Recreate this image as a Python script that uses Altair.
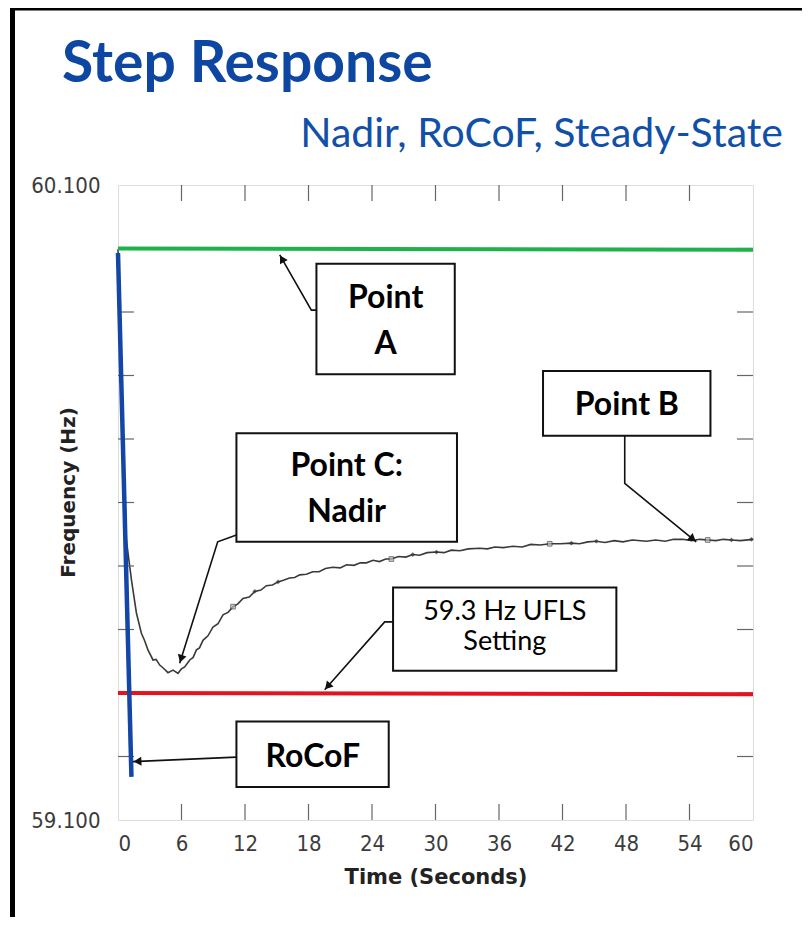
import math
import altair as alt
import pandas as pd

# ---------------- data ----------------
time_s = [0.00, 0.21, 0.44, 0.79, 1.27, 1.74, 2.21, 2.50, 2.83, 3.31, 3.60, 3.94, 4.30, 4.72,
          5.20, 5.67, 6.00, 6.30, 6.78, 7.10, 7.41, 7.70, 8.03, 8.50, 8.98, 9.45, 9.92, 10.40,
          10.87, 11.30, 11.81, 12.40, 12.92, 13.50, 14.02, 14.60, 15.12, 15.70, 16.20, 16.70,
          17.17, 17.80, 18.40, 19.00, 19.60, 20.29, 21.00, 21.60, 22.30, 22.90, 23.47, 24.10,
          24.70, 25.30, 25.83, 26.50, 27.20, 27.85, 28.50, 29.20, 30.09, 30.80, 31.50, 32.30,
          33.10, 34.18, 34.90, 35.60, 36.40, 37.30, 38.20, 39.00, 39.90, 40.79, 41.80, 42.84,
          43.60, 44.40, 45.20, 46.00, 46.90, 47.70, 48.60, 49.93, 50.80, 51.70, 52.50, 53.36,
          54.20, 55.00, 55.72, 56.50, 57.20, 57.96, 58.80, 60.00]
freq_hz = [59.999, 59.872, 59.714, 59.541, 59.478, 59.426, 59.394, 59.383, 59.368, 59.352, 59.353,
           59.344, 59.339, 59.332, 59.336, 59.331, 59.338, 59.341, 59.352, 59.356, 59.368, 59.371,
           59.383, 59.390, 59.404, 59.409, 59.423, 59.427, 59.436, 59.440, 59.449, 59.451, 59.460,
           59.462, 59.469, 59.470, 59.475, 59.478, 59.481, 59.482, 59.486, 59.487, 59.491, 59.491,
           59.496, 59.498, 59.497, 59.502, 59.501, 59.505, 59.505, 59.509, 59.507, 59.511, 59.511,
           59.515, 59.514, 59.518, 59.517, 59.521, 59.522, 59.521, 59.525, 59.524, 59.527, 59.528,
           59.527, 59.530, 59.529, 59.531, 59.530, 59.534, 59.533, 59.535, 59.535, 59.536, 59.535,
           59.538, 59.539, 59.537, 59.540, 59.538, 59.541, 59.539, 59.541, 59.539, 59.542, 59.542,
           59.540, 59.542, 59.541, 59.540, 59.542, 59.541, 59.540, 59.542]

square_t = [10.87, 25.83, 40.79, 55.72]
square_f = [59.436, 59.511, 59.535, 59.541]
diamond_t = [12.92, 15.12, 27.85, 30.09, 42.84, 45.20, 57.96, 59.85]
diamond_f = [59.460, 59.475, 59.518, 59.522, 59.536, 59.539, 59.541, 59.542]

green_t = [0, 60]
green_f = [60.000, 59.998]
red_t = [0, 60]
red_f = [59.300, 59.298]
rocof_t = [0.0, 1.27]
rocof_f = [59.993, 59.168]

x_ticks = [0, 6, 12, 18, 24, 30, 36, 42, 48, 54, 60]
y_labels = [59.1, 60.1]
inner_x_ticks = [6, 12, 18, 24, 30, 36, 42, 48, 54]
inner_y_ticks = [59.2, 59.3, 59.4, 59.5, 59.6, 59.7, 59.8, 59.9, 60.0]

# annotation boxes (seconds, Hz)
box_t1 = [18.75, 40.16, 11.19, 25.99, 11.19]
box_t2 = [31.82, 55.98, 32.03, 47.09, 25.58]
box_f1 = [59.976, 59.807, 59.709, 59.466, 59.255]
box_f2 = [59.802, 59.705, 59.538, 59.335, 59.152]

bold_text = ["Point", "A", "Point B", "Point C:", "Nadir", "RoCoF"]
bold_t = [25.29, 25.29, 48.08, 21.61, 21.61, 18.40]
bold_f = [59.922, 59.850, 59.754, 59.657, 59.585, 59.199]
plain_text = ["59.3 Hz UFLS", "Setting"]
plain_t = [36.55, 36.55]
plain_f = [59.428, 59.381]

# leader lines: one list of (t, f) per arrow, ending at the arrow tip
leaders = {
    "A": [(18.75, 59.903), (18.27, 59.903), (15.28, 59.990)],
    "B": [(47.88, 59.705), (47.88, 59.630), (54.64, 59.538)],
    "C": [(11.19, 59.549), (9.42, 59.538), (5.83, 59.347)],
    "U": [(25.99, 59.412), (25.20, 59.412), (19.53, 59.305)],
    "R": [(11.19, 59.199), (1.42, 59.192)],
}

title_text = "Step Response"
subtitle_text = "Nadir, RoCoF, Steady-State"

# ---------------- chart ----------------
W, H = 635, 635
T_DOM, F_DOM = [0, 60], [59.1, 60.1]
xs = alt.Scale(domain=T_DOM, nice=False, zero=False)
ys = alt.Scale(domain=F_DOM, nice=False, zero=False)
BLUE = "#0d47a1"
LABEL_FONT = "DejaVu Sans Condensed, DejaVu Sans, sans-serif"

curve_df = pd.DataFrame({"t": time_s, "f": freq_hz})
x_axis = alt.Axis(values=x_ticks, format="d", labelFont=LABEL_FONT, labelFontSize=22,
                  labelColor="#3c3c3c", labelPadding=13, ticks=False, tickSize=0, domain=False,
                  grid=False, title="Time (Seconds)", titleFont="DejaVu Sans",
                  titleFontWeight="bold", titleFontSize=21, titleColor="#222222",
                  titleY=57, titleBaseline="middle")
y_axis = alt.Axis(values=y_labels, format=".3f", labelFont=LABEL_FONT, labelFontSize=22,
                  labelColor="#3c3c3c", labelPadding=18, ticks=False, tickSize=0, domain=False,
                  grid=False, title="Frequency (Hz)", titleFont="DejaVu Sans",
                  titleFontWeight="bold", titleFontSize=20, titleColor="#222222",
                  titleAngle=270, titleX=-50, titleY=307, titleAlign="center",
                  titleBaseline="middle")

curve = alt.Chart(curve_df).mark_line(color="#3a3a3a", strokeWidth=1.6).encode(
    x=alt.X("t:Q", scale=xs, axis=x_axis),
    y=alt.Y("f:Q", scale=ys, axis=y_axis),
)

def xy(tf="t", ff="f"):
    return dict(x=alt.X(f"{tf}:Q", scale=xs), y=alt.Y(f"{ff}:Q", scale=ys))

tick_top = alt.Chart(pd.DataFrame({"t": inner_x_ticks})).mark_rule(color="#666", strokeWidth=1.2).encode(
    x=alt.X("t:Q", scale=xs), y=alt.value(0), y2=alt.value(16))
tick_bot = alt.Chart(pd.DataFrame({"t": inner_x_ticks})).mark_rule(color="#666", strokeWidth=1.2).encode(
    x=alt.X("t:Q", scale=xs), y=alt.value(H - 16), y2=alt.value(H))
tick_left = alt.Chart(pd.DataFrame({"f": inner_y_ticks})).mark_rule(color="#666", strokeWidth=1.2).encode(
    y=alt.Y("f:Q", scale=ys), x=alt.value(0), x2=alt.value(16))
tick_right = alt.Chart(pd.DataFrame({"f": inner_y_ticks})).mark_rule(color="#666", strokeWidth=1.2).encode(
    y=alt.Y("f:Q", scale=ys), x=alt.value(W - 16), x2=alt.value(W))

green = alt.Chart(pd.DataFrame({"t": green_t, "f": green_f})).mark_line(
    color="#1fb24a", strokeWidth=4).encode(**xy())
red = alt.Chart(pd.DataFrame({"t": red_t, "f": red_f})).mark_line(
    color="#e3131f", strokeWidth=4).encode(**xy())
rocof = alt.Chart(pd.DataFrame({"t": rocof_t, "f": rocof_f})).mark_line(
    color="#1446a8", strokeWidth=4.5, strokeCap="butt").encode(**xy())

squares = alt.Chart(pd.DataFrame({"t": square_t, "f": square_f})).mark_point(
    shape="square", size=22, filled=True, fill="#bbbbbb", stroke="#444", strokeWidth=1).encode(**xy())
diamonds = alt.Chart(pd.DataFrame({"t": diamond_t, "f": diamond_f})).mark_point(
    shape="diamond", size=22, filled=True, color="#333").encode(**xy())

boxes = alt.Chart(pd.DataFrame({"t1": box_t1, "t2": box_t2, "f1": box_f1, "f2": box_f2})).mark_rect(
    fill="white", stroke="#111", strokeWidth=2).encode(
    x=alt.X("t1:Q", scale=xs), x2="t2:Q", y=alt.Y("f1:Q", scale=ys), y2="f2:Q")

bold_lbl = alt.Chart(pd.DataFrame({"t": bold_t, "f": bold_f, "s": bold_text})).mark_text(
    font="Lato", fontWeight="bold", fontSize=32, color="#000", baseline="middle", align="center").encode(
    **xy(), text="s:N")
plain_lbl = alt.Chart(pd.DataFrame({"t": plain_t, "f": plain_f, "s": plain_text})).mark_text(
    font="Lato", fontSize=27, color="#000", baseline="middle", align="center").encode(
    **xy(), text="s:N")

rows, heads = [], []
px_t, px_f = W / (T_DOM[1] - T_DOM[0]), H / (F_DOM[1] - F_DOM[0])
for name, pts in leaders.items():
    for i, (t, f) in enumerate(pts):
        rows.append({"id": name, "o": i, "t": t, "f": f})
    (t0, f0), (t1, f1) = pts[-2], pts[-1]
    dx, dy = (t1 - t0) * px_t, -(f1 - f0) * px_f
    L = math.hypot(dx, dy)
    ang = math.degrees(math.atan2(dx, -dy)) % 360
    back = 4.5
    heads.append({"t": t1 - dx / L * back / px_t, "f": f1 + dy / L * back / px_f, "a": ang})

leader_lines = alt.Chart(pd.DataFrame(rows)).mark_line(color="#111", strokeWidth=1.6).encode(
    **xy(), detail="id:N", order="o:Q")
arrow_heads = alt.Chart(pd.DataFrame(heads)).mark_point(
    shape="triangle-up", size=80, filled=True, color="#111", opacity=1).encode(
    **xy(), angle=alt.Angle("a:Q", scale=None))

title = alt.Chart(pd.DataFrame({"s": [title_text]})).mark_text(
    font="Lato", fontWeight="bold", fontSize=57, color=BLUE, align="left", baseline="alphabetic").encode(
    x=alt.value(-56), y=alt.value(-103), text="s:N")
subtitle = alt.Chart(pd.DataFrame({"s": [subtitle_text]})).mark_text(
    font="Lato", fontSize=41, color="#1150a8", align="right", baseline="alphabetic").encode(
    x=alt.value(665), y=alt.value(-38), text="s:N")

border_left = alt.Chart(pd.DataFrame({"s": [0]})).mark_rule(color="#000", strokeWidth=5).encode(
    x=alt.value(-105.5), y=alt.value(-177), y2=alt.value(740))
border_top = alt.Chart(pd.DataFrame({"s": [0]})).mark_rule(color="#000", strokeWidth=5).encode(
    x=alt.value(-108), x2=alt.value(700), y=alt.value(-177))

chart = alt.layer(
    curve, tick_top, tick_bot, tick_left, tick_right, green, red, squares, diamonds,
    rocof, leader_lines, boxes, bold_lbl, plain_lbl, arrow_heads, title, subtitle,
    border_left, border_top,
).properties(
    width=W, height=H,
    autosize=alt.AutoSizeParams(type="none"),
    padding={"left": 110, "top": 177, "right": 49, "bottom": 97},
).configure_view(
    stroke="#777777", strokeWidth=1.5
).configure(background="white")

chart.save("out.html", embed_options={"renderer": "svg", "actions": False})
